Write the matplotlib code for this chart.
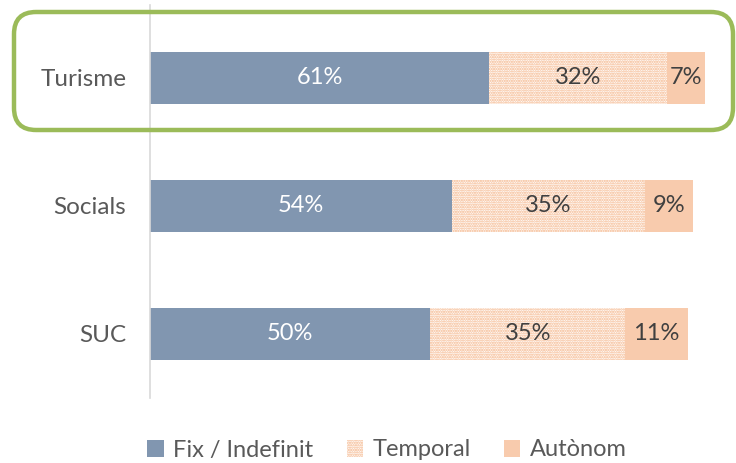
import matplotlib
matplotlib.use("Agg")
import matplotlib.pyplot as plt
from matplotlib.patches import FancyBboxPatch, Patch
import numpy as np

categories = ["Turisme", "Socials", "SUC"]
fix_vals = [61.0, 54.3, 50.4]
temp_vals = [32.0, 34.7, 35.1]
auto_vals = [6.8, 8.6, 11.2]
series_names = ["Fix / Indefinit", "Temporal", "Autònom"]

plt.rcParams['font.family'] = ['Lato', 'DejaVu Sans']
plt.rcParams['hatch.linewidth'] = 1.1

W, H = 736, 463
fig = plt.figure(figsize=(W / 100, H / 100), dpi=100)
ax = fig.add_axes([150 / W, (H - 398) / H, 556 / W, 393 / H])

c_fix = '#8196B0'
c_temp = '#F4B183'
c_auto = '#F8CBAD'

y = np.arange(len(categories))
h = 0.4
fix = np.array(fix_vals); temp = np.array(temp_vals); auto = np.array(auto_vals)
ax.barh(y, fix, height=h, color=c_fix, edgecolor='none', label=series_names[0])
ax.barh(y, temp, left=fix, height=h, facecolor='white', edgecolor=c_temp,
        hatch='.......', linewidth=0, label=series_names[1])
ax.barh(y, auto, left=fix + temp, height=h, color=c_auto, edgecolor='none', label=series_names[2])

fs = 17
for i in range(len(categories)):
    ax.text(fix[i] / 2, y[i], f"{fix[i]:.0f}%", ha='center', va='center', color='white', fontsize=fs)
    ax.text(fix[i] + temp[i] / 2, y[i], f"{temp[i]:.0f}%", ha='center', va='center', color='#404040', fontsize=fs)
    ax.text(fix[i] + temp[i] + auto[i] / 2, y[i], f"{auto[i]:.0f}%", ha='center', va='center', color='#404040', fontsize=fs)

ax.set_xlim(0, 100)
ax.set_ylim(2.5, -0.57)
ax.set_yticks(y)
ax.set_yticklabels(categories, fontsize=17.5, color='#595959')
ax.tick_params(axis='y', length=0, pad=17)
ax.set_xticks([])
for s in ['top', 'right', 'bottom']:
    ax.spines[s].set_visible(False)
ax.spines['left'].set_color('#D9D9D9')
ax.spines['left'].set_linewidth(1.2)

handles = [Patch(facecolor=c_fix, edgecolor='none'),
           Patch(facecolor='white', edgecolor=c_temp, hatch='.......', linewidth=0),
           Patch(facecolor=c_auto, edgecolor='none')]
fig.legend(handles, series_names, loc='center', bbox_to_anchor=(387 / W, 1 - 450 / H),
           ncol=3, frameon=False, fontsize=fs, handlelength=0.7, handleheight=0.7,
           handletextpad=0.4, columnspacing=1.4, labelcolor='#595959')

box = FancyBboxPatch((14 / W, 1 - 130 / H), (733 - 14) / W, (130 - 12) / H,
                     boxstyle="round,pad=0,rounding_size=0.03",
                     transform=fig.transFigure, facecolor='none',
                     edgecolor='#9BBB59', linewidth=3.2, mutation_aspect=W / H)
fig.patches.append(box)

fig.savefig("out.png", dpi=100)
